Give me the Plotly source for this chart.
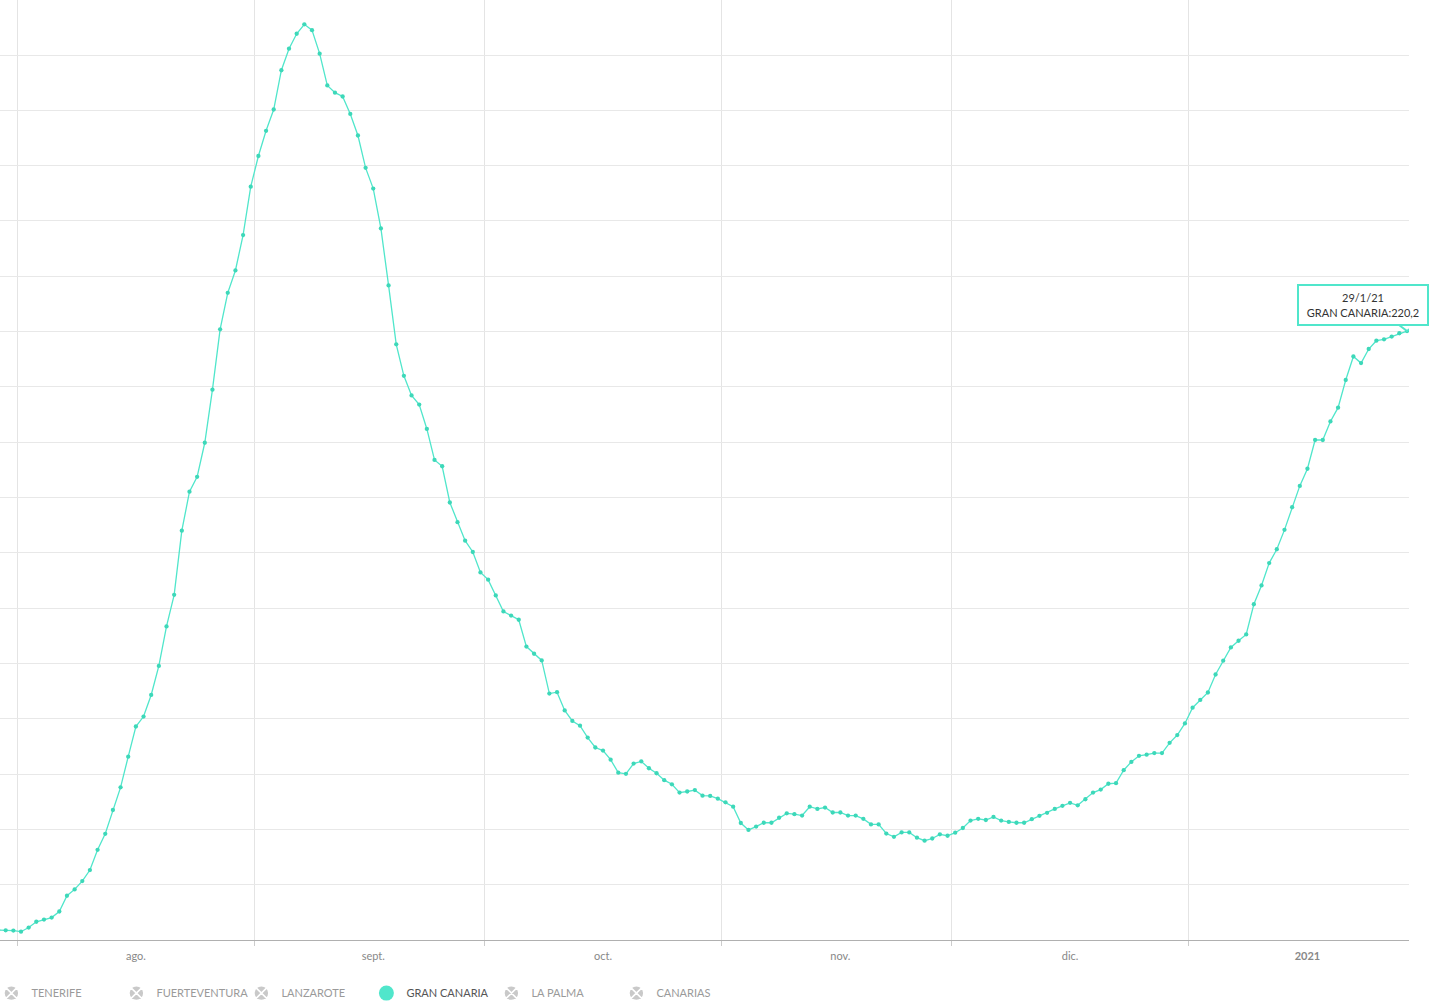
import plotly.graph_objects as go
import pandas as pd

# ---- data -------------------------------------------------------------
start_date = "2020-07-29 12:00"
gran_canaria = [
    3.6, 3.5, 3.4,
    # Aug
    3.0, 4.5, 6.6, 7.4, 8.1, 10.3, 16.0, 18.3, 21.3, 25.3, 32.6, 38.4, 47.0, 55.2, 66.3, 77.2,
    80.8, 88.6, 99.1, 113.4, 124.8, 148.0, 162.1, 167.5, 179.8, 199.0, 220.8, 234.0, 242.1,
    254.9, 272.4,
    # Sep
    283.5, 292.6, 300.3, 314.5, 322.3, 327.7, 331.1, 329.0, 320.5, 309.0, 306.4, 305.0, 298.7,
    290.9, 279.2, 271.7, 257.3, 236.7, 215.4, 204.0, 196.9, 193.6, 184.8, 173.6, 171.3, 158.2,
    151.1, 144.4, 140.3, 132.9,
    # Oct
    130.3, 124.6, 118.8, 117.3, 115.8, 106.1, 103.5, 101.1, 89.1, 89.6, 83.0, 79.2, 77.5, 73.2,
    69.6, 68.5, 65.2, 60.5, 60.1, 63.8, 64.6, 62.1, 60.3, 57.8, 56.3, 53.3, 53.7, 54.2, 52.2,
    52.1, 51.1,
    # Nov
    49.8, 48.2, 42.3, 39.8, 41.0, 42.4, 42.4, 44.2, 45.8, 45.5, 45.0, 48.2, 47.4, 47.9, 46.1,
    46.1, 45.0, 45.0, 43.8, 41.8, 41.8, 38.5, 37.3, 38.9, 38.9, 37.0, 35.9, 36.7, 38.2, 37.7,
    # Dec
    38.8, 40.5, 43.2, 43.8, 43.4, 44.5, 43.2, 42.7, 42.4, 42.4, 43.7, 44.9, 46.0, 47.4, 48.5,
    49.6, 48.7, 50.9, 53.3, 54.4, 56.5, 56.7, 61.4, 64.4, 66.6, 67.0, 67.6, 67.6, 71.3, 74.1,
    78.3,
    # Jan
    84.0, 86.8, 89.5, 96.0, 101.0, 105.8, 108.2, 110.5, 121.4, 128.2, 136.3, 141.3, 148.3,
    156.5, 164.2, 170.4, 180.8, 180.8, 187.5, 192.5, 202.5, 211.0, 208.6, 213.7, 216.7, 217.2,
    218.2, 219.4, 220.2,
]
dates = pd.date_range(start_date, periods=len(gran_canaria), freq="D")

month_starts = ["2020-08-01", "2020-09-01", "2020-10-01", "2020-11-01", "2020-12-01", "2021-01-01"]
label_dates = ["2020-08-16 12:00", "2020-09-16 12:00", "2020-10-16 12:00",
               "2020-11-16 12:00", "2020-12-16 12:00", "2021-01-16 12:00"]
tick_labels = ["ago.", "sept.", "oct.", "nov.", "dic.", "<b>2021</b>"]

series_names = ["TENERIFE", "FUERTEVENTURA", "LANZAROTE", "GRAN CANARIA", "LA PALMA", "CANARIAS"]
active_series = "GRAN CANARIA"

x_range = ["2020-07-29 18:08", "2021-01-29 18:16"]
y_range = [0, 339.9]

# ---- style ------------------------------------------------------------
LINE = "#50E6CB"
MARK = "#3DD8B9"
FONT = "Lato"

fig = go.Figure()

fig.add_trace(go.Scatter(
    x=dates, y=gran_canaria, mode="lines+markers",
    line=dict(color=LINE, width=1.3),
    marker=dict(color=MARK, size=4.3),
    showlegend=False, hoverinfo="skip",
))

# legend entries
for name in series_names:
    if name == active_series:
        marker = dict(symbol="circle", size=15, color=LINE, line=dict(width=0))
        label = "<span style='color:#555555'>%s</span>" % name
    else:
        marker = dict(symbol="circle-x", size=15, color="#c9c9c9",
                      line=dict(color="white", width=1.6))
        label = name
    fig.add_trace(go.Scatter(x=[None], y=[None], mode="markers", marker=marker,
                             name=label, showlegend=True, hoverinfo="skip"))

# tooltip for last point
last_d = dates[-1]
last_v = gran_canaria[-1]
tip_text = "%d/%d/%02d<br>%s:%s" % (last_d.day, last_d.month, last_d.year % 100,
                                     active_series, ("%.1f" % last_v).replace(".", ","))
fig.add_shape(type="path", xref="x", yref="y", xsizemode="pixel", ysizemode="pixel",
              xanchor=last_d, yanchor=last_v,
              path="M -8 6 L 0 0 L 8 6 Z",
              fillcolor="white", line=dict(color=LINE, width=2), layer="above")
fig.add_annotation(x=last_d, y=last_v, xref="x", yref="y", text=tip_text,
                   showarrow=False, xanchor="center", yanchor="middle",
                   xshift=-44, yshift=26, width=126, height=36, borderpad=1,
                   bordercolor=LINE, borderwidth=2, bgcolor="white",
                   font=dict(family=FONT, size=11, color="#333333"))

fig.update_layout(
    width=1439, height=1005,
    margin=dict(l=0, r=30, t=0, b=65, autoexpand=False),
    paper_bgcolor="white", plot_bgcolor="white",
    font=dict(family=FONT, size=11, color="#888888"),
    showlegend=True,
    legend=dict(orientation="h", x=-0.0061, xanchor="left", y=-0.0565, yanchor="middle",
                entrywidth=80, entrywidthmode="pixels",
                font=dict(family=FONT, size=11, color="#9a9a9a"),
                itemclick=False, itemdoubleclick=False, bgcolor="rgba(0,0,0,0)"),
    xaxis=dict(
        type="date", range=x_range, fixedrange=True,
        tickmode="array", tickvals=label_dates, ticktext=tick_labels,
        showgrid=False, ticks="", zeroline=False,
        showline=True, linecolor="#b0b0b0", linewidth=1,
        tickfont=dict(family=FONT, size=11, color="#888888"),
        ticklabelstandoff=6,
        minor=dict(tickmode="array", tickvals=month_starts, showgrid=True,
                   gridcolor="#e4e4e4", gridwidth=1, ticks="outside", ticklen=5,
                   tickcolor="#cccccc"),
    ),
    yaxis=dict(
        range=y_range, fixedrange=True, tick0=0, dtick=20,
        showticklabels=False, showgrid=True, gridcolor="#e8e8e8", gridwidth=1,
        zeroline=False, showline=False, ticks="",
    ),
)

fig.write_html("out.html")
